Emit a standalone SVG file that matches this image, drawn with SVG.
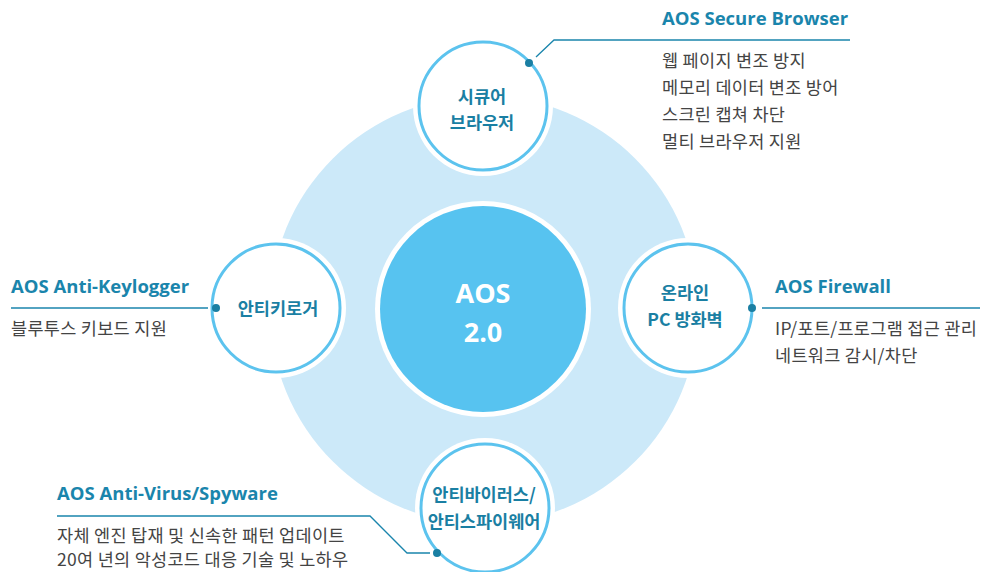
<svg xmlns="http://www.w3.org/2000/svg" width="987" height="572" viewBox="0 0 987 572">
<style>
.halo{fill:#ffffff}
.node{fill:#ffffff;stroke:#5CC3EE;stroke-width:3}
.nt{font-family:"Noto Sans CJK KR","Open Sans",sans-serif;font-weight:700;font-size:17.5px;fill:#1A7FA3;text-anchor:middle}
.title{font-family:"Open Sans","Noto Sans CJK KR",sans-serif;font-weight:700;font-size:18.5px;fill:#1A85AC}
.desc{font-family:"Noto Sans CJK KR","Noto Sans",sans-serif;font-size:17.5px;letter-spacing:0.3px;fill:#444444}
.ln{fill:none;stroke:#1A85AC;stroke-width:1.3}
.dot{fill:#1A7FA3}
.ct{font-family:"Open Sans",sans-serif;font-weight:700;font-size:27px;fill:#ffffff;text-anchor:middle}
</style>
<rect width="987" height="572" fill="#ffffff"/>
<circle cx="484" cy="310" r="214" fill="#CCE9F9"/>
<g id="center">
<circle cx="483" cy="309" r="108" fill="#ffffff"/>
<circle cx="483" cy="309" r="103" fill="#57C3F0"/>
<text class="ct" x="483" y="303">AOS</text>
<text class="ct" x="483" y="342">2.0</text>
</g>
<g id="node-browser">
<circle class="halo" cx="483" cy="106" r="70"/>
<circle class="node" cx="483" cy="106" r="64"/>
<text class="nt" x="482" y="103">시큐어</text>
<text class="nt" x="482" y="129">브라우저</text>
</g>
<g id="node-keylogger">
<circle class="halo" cx="276" cy="308" r="70"/>
<circle class="node" cx="276" cy="308" r="64"/>
<text class="nt" x="278" y="315">안티키로거</text>
</g>
<g id="node-firewall">
<circle class="halo" cx="688" cy="308" r="70"/>
<circle class="node" cx="688" cy="308" r="64"/>
<text class="nt" x="685" y="299">온라인</text>
<text class="nt" x="685" y="326">PC 방화벽</text>
</g>
<g id="node-virus">
<circle class="halo" cx="485" cy="508" r="70"/>
<circle class="node" cx="485" cy="508" r="64"/>
<text class="nt" x="484" y="501">안티바이러스/</text>
<text class="nt" x="484" y="528">안티스파이웨어</text>
</g>
<g id="connectors">
<polyline class="ln" points="536,57 554,40 850,40"/>
<circle class="dot" cx="529" cy="63" r="4"/>
<line class="ln" x1="11" y1="308" x2="208" y2="308"/>
<circle class="dot" cx="216" cy="308" r="4"/>
<line class="ln" x1="762" y1="308" x2="980" y2="308"/>
<circle class="dot" cx="752" cy="308" r="4"/>
<polyline class="ln" points="57,516 370,516 407,553 430,553"/>
<circle class="dot" cx="437" cy="553" r="4"/>
</g>
<g id="label-browser">
<text class="title" x="662" y="25">AOS Secure Browser</text>
<text class="desc" x="662" y="67">웹 페이지 변조 방지</text>
<text class="desc" x="662" y="94">메모리 데이터 변조 방어</text>
<text class="desc" x="662" y="121">스크린 캡쳐 차단</text>
<text class="desc" x="662" y="148">멀티 브라우저 지원</text>
</g>
<g id="label-keylogger">
<text class="title" x="11" y="293">AOS Anti-Keylogger</text>
<text class="desc" x="11" y="335">블루투스 키보드 지원</text>
</g>
<g id="label-firewall">
<text class="title" x="775" y="293">AOS Firewall</text>
<text class="desc" x="775" y="335">IP/포트/프로그램 접근 관리</text>
<text class="desc" x="775" y="362">네트워크 감시/차단</text>
</g>
<g id="label-virus">
<text class="title" x="57" y="500">AOS Anti-Virus/Spyware</text>
<text class="desc" x="57" y="542">자체 엔진 탑재 및 신속한 패턴 업데이트</text>
<text class="desc" x="57" y="566">20여 년의 악성코드 대응 기술 및 노하우</text>
</g>
</svg>
